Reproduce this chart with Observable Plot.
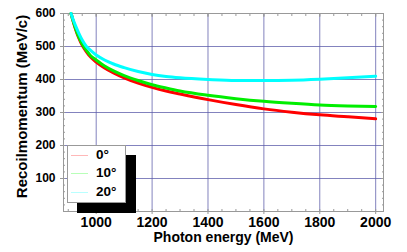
<!DOCTYPE html>
<html>
<head>
<meta charset="utf-8">
<script src="https://cdn.jsdelivr.net/npm/d3@7"></script>
<script src="https://cdn.jsdelivr.net/npm/@observablehq/plot@0.6"></script>
<style>
  html, body { margin: 0; padding: 0; background: #fff; }
  #wrap { position: relative; width: 407px; height: 252px; font-family: "Liberation Sans", Arial, sans-serif; }
  #legend { position: absolute; left: 67px; top: 145px; width: 57px; height: 56px; background: #fff; border: 1px solid #999; box-shadow: 10px 10px 0 #000; }
  .item { position: absolute; left: 3px; height: 16px; font-weight: bold; font-size: 13.5px; color: #000; }
  .item span.sw { position: absolute; left: 0; top: 8px; width: 17px; height: 1px; }
  .item span.lb { position: absolute; left: 25px; top: 0; line-height: 16px; white-space: nowrap; }
</style>
</head>
<body>
<div id="wrap"></div>
<script>
// Photon energy (MeV)
const energy = [910, 918, 927, 938, 951, 965, 980, 1000, 1030, 1062, 1100, 1150, 1200, 1250, 1300, 1400, 1500, 1600, 1700, 1800, 1900, 2000];
// Recoil momentum (MeV/c) for three angles
const p0  = [600, 575, 550, 525, 502, 484, 468, 453, 435, 420, 405, 389, 376, 365, 356, 339, 324, 311, 301, 293, 287, 281];
const p10 = [600, 576, 552, 528, 506, 488, 472, 459, 441, 426, 412, 397, 384, 374, 365, 352, 342, 334, 328, 323, 320, 318];
const p20 = [600, 580, 561, 540, 518, 500, 488, 474, 459, 447, 436, 424, 415, 409, 405, 400, 397, 397, 398, 401, 405, 410];
const seriesNames = ["0°", "10°", "20°"];
const seriesColors = ["#ff0000", "#00ee00", "#00ffff"];
const legendColors = ["#ffb8b8", "#b8ffb8", "#b8ffff"];
const xTicks = [1000, 1200, 1400, 1600, 1800, 2000];
const yTicks = [100, 200, 300, 400, 500, 600];
const xMinor = d3.range(900, 2030, 50);
const yMinor = d3.range(0, 601, 20);
const xLabel = "Photon energy (MeV)";
const yLabel = "Recoilmomentum (MeV/c)";

const seriesValues = [p0, p10, p20];
const data = seriesNames.flatMap((name, i) => energy.map((e, j) => ({name, e, p: seriesValues[i][j]})));

const chart = Plot.plot({
  width: 407, height: 252,
  marginLeft: 63, marginRight: 24, marginTop: 13, marginBottom: 41,
  style: {fontFamily: "'Liberation Sans', Arial, sans-serif", fontWeight: "bold", fontSize: "12px", color: "#000", background: "#fff"},
  x: {domain: [883, 2028]},
  y: {domain: [0, 600]},
  color: {domain: seriesNames, range: seriesColors},
  marks: [
    Plot.gridX(xTicks, {stroke: "#5a5aa8", strokeOpacity: 0.75}),
    Plot.gridY(yTicks.filter(d => d < 600), {stroke: "#5a5aa8", strokeOpacity: 0.75}),
    Plot.frame({stroke: "#999"}),
    Plot.axisX(xMinor, {anchor: "bottom", tickSize: -2, text: null, stroke: "#999", label: null}),
    Plot.axisX(xMinor, {anchor: "top", tickSize: -2, text: null, stroke: "#999", label: null}),
    Plot.axisY(yMinor, {anchor: "left", tickSize: -2, text: null, stroke: "#999", label: null}),
    Plot.axisY(yMinor, {anchor: "right", tickSize: -2, text: null, stroke: "#999", label: null}),
    Plot.axisX(xTicks, {anchor: "top", tickSize: -3, text: null, stroke: "#999", label: null}),
    Plot.axisY(yTicks, {anchor: "right", tickSize: -3, text: null, stroke: "#999", label: null}),
    Plot.axisX(xTicks, {anchor: "bottom", tickSize: 3, tickPadding: 3, stroke: "#999", fontSize: 14,
      tickFormat: d => String(d), label: null}),
    Plot.axisY(yTicks, {anchor: "left", tickSize: 3, tickPadding: 5, stroke: "#999", fontSize: 12,
      tickFormat: d => String(d), label: null}),
    Plot.text([xLabel], {frameAnchor: "bottom", text: d => d, textAnchor: "middle", lineAnchor: "middle",
      dy: 26.5, fontSize: 14, fontWeight: "bold", fill: "#000"}),
    Plot.text([yLabel], {frameAnchor: "left", text: d => d, textAnchor: "middle", lineAnchor: "middle",
      rotate: -90, dx: -41.5, dy: -6, fontSize: 15, fontWeight: "bold", fill: "#000"}),
    Plot.line(data, {x: "e", y: "p", z: "name", stroke: "name", strokeWidth: 3, curve: "monotone-x"})
  ]
});
const wrap = document.getElementById("wrap");
wrap.appendChild(chart);

const legend = document.createElement("div");
legend.id = "legend";
seriesNames.forEach((name, i) => {
  const item = document.createElement("div");
  item.className = "item";
  item.style.top = (1 + i * 18.3) + "px";
  item.innerHTML = `<span class="sw" style="background:${legendColors[i]}"></span><span class="lb">${name}</span>`;
  legend.appendChild(item);
});
wrap.appendChild(legend);
</script>
</body>
</html>
